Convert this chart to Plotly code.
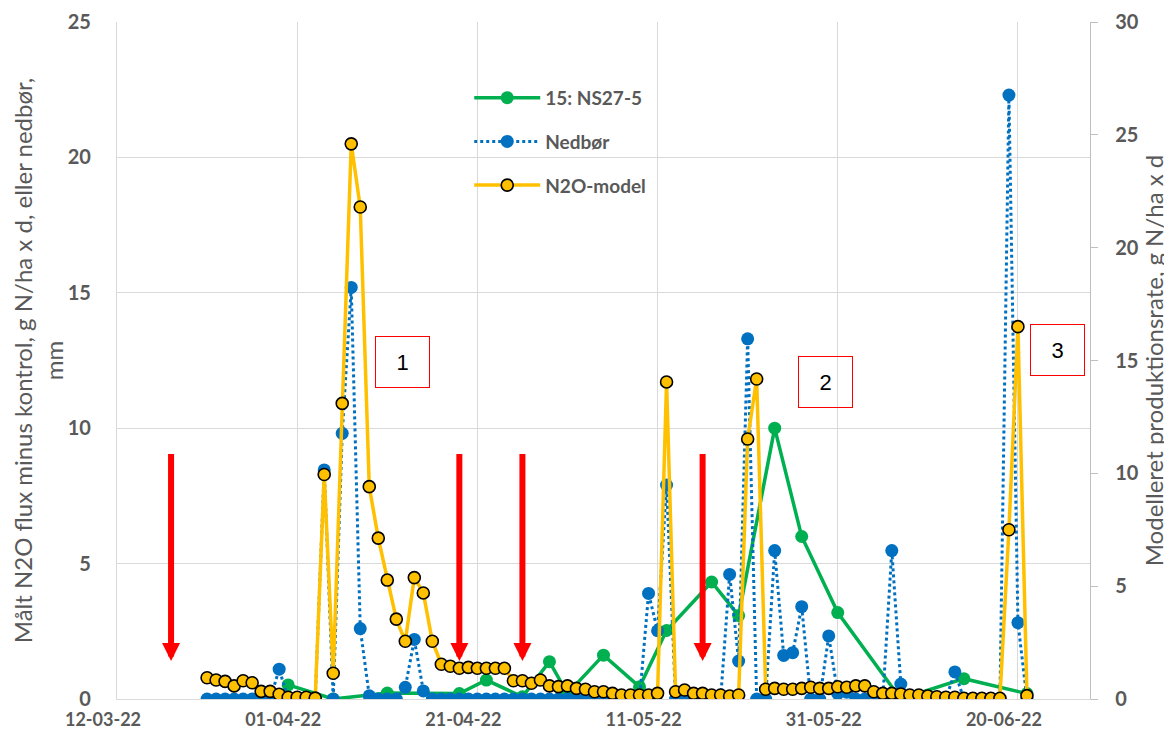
import plotly.graph_objects as go
import pandas as pd

# ---------------- data ----------------
x_range = ["2022-03-12", "2022-06-28"]
tick_dates = ["2022-03-12", "2022-04-01", "2022-04-21", "2022-05-11", "2022-05-31", "2022-06-20"]
tick_labels = ["12-03-22", "01-04-22", "21-04-22", "11-05-22", "31-05-22", "20-06-22"]

# daily series start 22-03-22 (92 days, to 21-06-22)
daily_start = "2022-03-22"

model_values = [
    0.94, 0.84, 0.78, 0.58, 0.81, 0.72, 0.34, 0.34, 0.21, 0.08,
    0.08, 0.08, 0.04, 9.95, 1.14, 13.1, 24.6, 21.8, 9.41, 7.13,
    5.27, 3.54, 2.56, 5.38, 4.70, 2.56, 1.54, 1.45, 1.36, 1.40,
    1.36, 1.36, 1.36, 1.36, 0.81, 0.81, 0.70, 0.84, 0.58, 0.55,
    0.58, 0.47, 0.43, 0.32, 0.32, 0.25, 0.18, 0.18, 0.18, 0.18,
    0.25, 14.05, 0.32, 0.40, 0.25, 0.25, 0.18, 0.18, 0.13, 0.18,
    11.52, 14.18, 0.43, 0.47, 0.43, 0.43, 0.47, 0.52, 0.47, 0.47,
    0.54, 0.52, 0.58, 0.58, 0.32, 0.25, 0.25, 0.22, 0.18, 0.18,
    0.13, 0.10, 0.08, 0.08, 0.03, 0.03, 0.03, 0.03, 0.03, 7.5,
    16.5, 0.15,
]

rain_values = [
    0, 0, 0, 0, 0, 0, 0, 0, 1.1, 0,
    0, 0, 0, 8.46, 0, 9.81, 15.2, 2.6, 0.12, 0,
    0, 0, 0.43, 2.2, 0.3, 0, 0, 0, 0, 0,
    0, 0, 0, 0, 0, 0, 0, 0, 0, 0,
    0, 0, 0, 0, 0, 0, 0, 0, 0, 3.9,
    2.52, 7.9, 0, 0, 0, 0, 0, 0, 4.6, 1.4,
    13.3, 0, 0, 5.48, 1.61, 1.71, 3.41, 0, 0, 2.33,
    0.2, 0.25, 0, 0, 0, 0, 5.48, 0.55, 0, 0,
    0, 0, 0, 1.0, 0, 0, 0, 0, 0, 22.3,
    2.82, 0,
]

measured_dates = [
    "2022-03-31", "2022-04-05", "2022-04-11", "2022-04-19", "2022-04-22",
    "2022-04-26", "2022-04-29", "2022-05-01", "2022-05-05", "2022-05-09",
    "2022-05-12", "2022-05-17", "2022-05-20", "2022-05-24", "2022-05-27",
    "2022-05-31", "2022-06-07", "2022-06-14", "2022-06-21",
]
measured_values = [
    0.52, 0.0, 0.22, 0.2, 0.70,
    0.08, 1.38, 0.2, 1.62, 0.45,
    2.53, 4.32, 3.08, 10.0, 6.0,
    3.19, 0.0, 0.75, 0.2,
]

arrow_dates = ["2022-03-18", "2022-04-19", "2022-04-26", "2022-05-16"]
arrow_top = 9.1
arrow_tip = 1.4

box_labels = ["1", "2", "3"]
box_dates = ["2022-04-12 17:30", "2022-05-29 16:00", "2022-06-24 10:00"]
box_values = [12.45, 11.7, 12.9]

daily_dates = pd.date_range(daily_start, periods=len(model_values), freq="D")

# ---------------- styling ----------------
GREEN = "#00B050"
BLUE = "#0070C0"
YELLOW = "#FFC000"
GRID = "#D9D9D9"
TXT = "#595959"
FONT = "Lato"

fig = go.Figure()

fig.add_trace(go.Scatter(
    x=measured_dates, y=measured_values, name="15: NS27-5",
    mode="lines+markers", legendgroup="a",
    line=dict(color=GREEN, width=3.5),
    marker=dict(color=GREEN, size=13),
))
fig.add_trace(go.Scatter(
    x=daily_dates, y=rain_values, name="Nedbør",
    mode="lines+markers", legendgroup="b",
    line=dict(color=BLUE, width=3, dash="dot"),
    marker=dict(color=BLUE, size=13),
))
fig.add_trace(go.Scatter(
    x=daily_dates, y=model_values, name="N2O-model",
    mode="lines+markers", yaxis="y2", legendgroup="c",
    line=dict(color=YELLOW, width=3.5),
    marker=dict(color=YELLOW, size=12, line=dict(color="#000000", width=1.6)),
))

annotations = []
for d in arrow_dates:
    annotations.append(dict(
        x=d, y=arrow_tip, ax=d, ay=arrow_top, xref="x", yref="y",
        axref="x", ayref="y", text="", showarrow=True,
        arrowhead=2, arrowsize=0.6, arrowwidth=6, arrowcolor="#FF0000",
    ))
for lab, d, v in zip(box_labels, box_dates, box_values):
    annotations.append(dict(
        x=d, y=v, xref="x", yref="y", text=lab, showarrow=False,
        font=dict(family="Liberation Sans", size=22, color="#000000"),
        bordercolor="#FF0000", borderwidth=1, borderpad=0,
        width=53, height=50, bgcolor="rgba(255,255,255,0)",
    ))

fig.update_layout(
    width=1164, height=732,
    margin=dict(l=109, r=82, t=14, b=41, autoexpand=False),
    paper_bgcolor="white", plot_bgcolor="white",
    font=dict(family=FONT, color=TXT),
    showlegend=True,
    legend=dict(
        x=0.362, y=0.916, xanchor="left", yanchor="top",
        bgcolor="rgba(0,0,0,0)", itemwidth=66, tracegroupgap=16,
        font=dict(family=FONT, size=19, color=TXT, weight="bold"),
    ),
    xaxis=dict(
        type="date", range=x_range, automargin=False,
        tickmode="array", tickvals=tick_dates, ticktext=tick_labels,
        showgrid=True, gridcolor=GRID, gridwidth=1.3,
        showline=True, linecolor=GRID, linewidth=1.3,
        ticks="", zeroline=False, ticklabelstandoff=4, ticklabelshift=-14,
        tickfont=dict(family=FONT, size=18, color=TXT, weight="bold"),
    ),
    yaxis=dict(
        range=[0, 25], dtick=5, tick0=0, automargin=False,
        showgrid=True, gridcolor=GRID, gridwidth=1.3,
        showline=True, linecolor=GRID, linewidth=1.3,
        zeroline=False, ticks="", ticklabelstandoff=21,
        tickfont=dict(family=FONT, size=20, color=TXT, weight="bold"),
        title=dict(
            text="Målt N2O flux minus kontrol, g N/ha x d, eller nedbør,<br>mm",
            font=dict(family=FONT, size=24, color=TXT), standoff=6,
        ),
    ),
    yaxis2=dict(
        range=[0, 30], dtick=5, tick0=0, overlaying="y", side="right",
        automargin=False,
        showgrid=False, zeroline=False,
        showline=True, linecolor="#BFBFBF", linewidth=1.3,
        ticks="outside", ticklen=7, tickcolor="#BFBFBF", tickwidth=1.3,
        ticklabelstandoff=13,
        tickfont=dict(family=FONT, size=20, color=TXT, weight="bold"),
        title=dict(
            text="Modelleret produktionsrate, g N/ha x d",
            font=dict(family=FONT, size=24, color=TXT), standoff=0,
        ),
    ),
    annotations=annotations,
)

fig.write_html("out.html")
